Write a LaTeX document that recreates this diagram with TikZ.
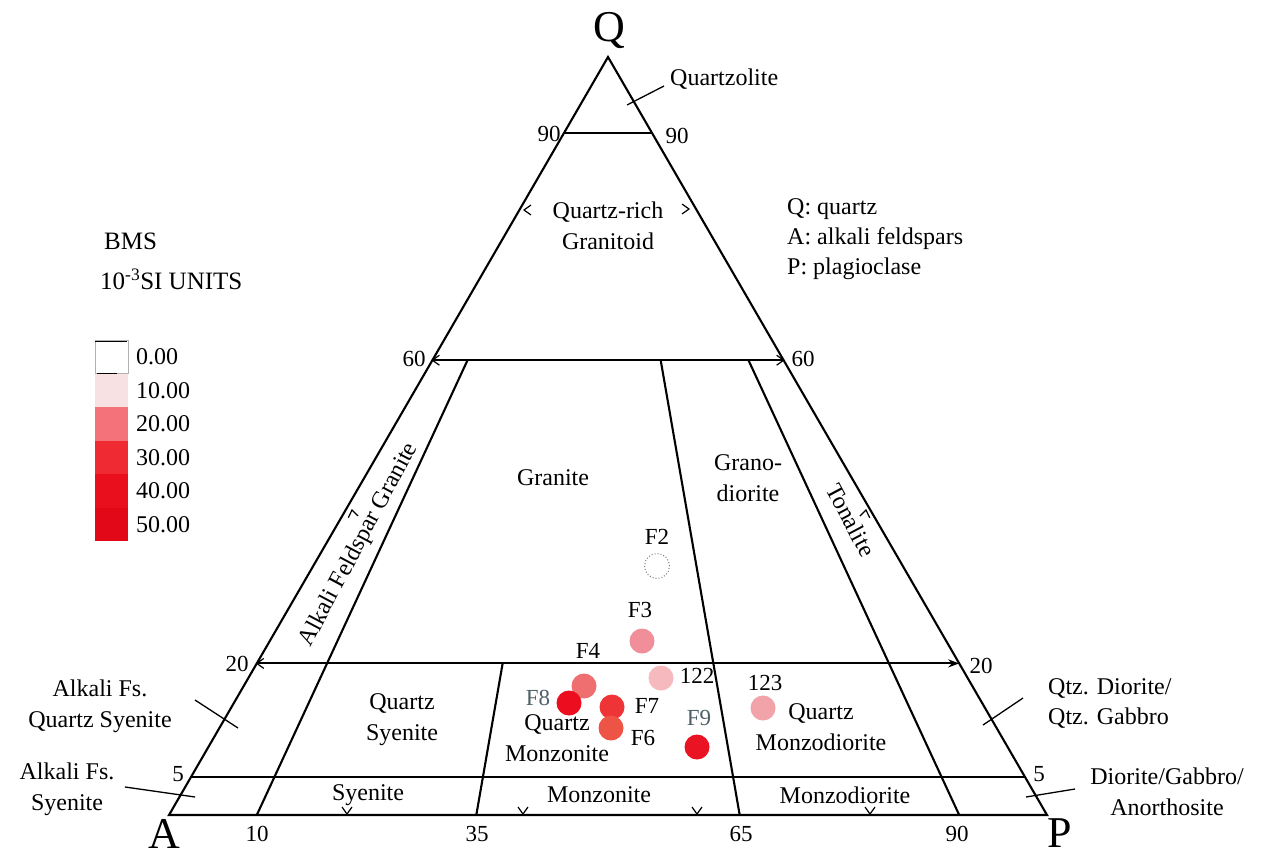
\documentclass[tikz,border=0pt]{standalone}
\usepackage{fontspec}
\setmainfont{Liberation Serif}
\usetikzlibrary{calc,arrows.meta}
\definecolor{cA}{HTML}{F7E1E2}
\definecolor{cB}{HTML}{F4737B}
\definecolor{cC}{HTML}{EF2A33}
\definecolor{cD}{HTML}{EA0F1C}
\definecolor{cE}{HTML}{E30818}
\definecolor{pF3}{HTML}{F08F99}
\definecolor{p122}{HTML}{F5B9BE}
\definecolor{pF4}{HTML}{EF6E70}
\definecolor{pF8}{HTML}{EC0E1E}
\definecolor{pF7}{HTML}{EE3436}
\definecolor{pF6}{HTML}{EE5446}
\definecolor{pF9}{HTML}{E91324}
\definecolor{p123}{HTML}{F2A3AA}
\definecolor{fade}{HTML}{4F6068}
\begin{document}
\begin{tikzpicture}[x=1pt,y=-1pt]
\tikzset{
  edge/.style={line width=2.1pt, line join=miter},
  lbl/.style={font=\fontsize{24}{31}\selectfont, inner sep=0pt, align=center},
  lbll/.style={font=\fontsize{24}{30}\selectfont, inner sep=0pt, align=left},
  num/.style={font=\fontsize{23}{24}\selectfont, inner sep=0pt},
  vtx/.style={font=\fontsize{44}{44}\selectfont, inner sep=0pt},
  ptc/.style={circle, minimum size=25pt, inner sep=0pt},
  leader/.style={line width=1.3pt},
  chv/.pic={\draw[line width=1.2pt] (-7,-5) -- (0,0) -- (-7,5);},
}
\useasboundingbox (0,0) rectangle (1268,857);
\fill[white] (0,0) rectangle (1268,857);
% corners
\coordinate (A) at (169,815);
\coordinate (P) at (1047,815);
\coordinate (Q) at (608,57);
% edge points
\coordinate (L90) at ($(A)!0.9!(Q)$);  \coordinate (R90) at ($(P)!0.9!(Q)$);
\coordinate (L60) at ($(A)!0.6!(Q)$);  \coordinate (R60) at ($(P)!0.6!(Q)$);
\coordinate (L20) at ($(A)!0.2!(Q)$);  \coordinate (R20) at ($(P)!0.2!(Q)$);
\coordinate (L05) at ($(A)!0.05!(Q)$); \coordinate (R05) at ($(P)!0.05!(Q)$);
\coordinate (B10) at ($(A)!0.10!(P)$); \coordinate (B35) at ($(A)!0.35!(P)$);
\coordinate (B65) at ($(A)!0.65!(P)$); \coordinate (B90) at ($(A)!0.90!(P)$);
\coordinate (U10) at ($(B10)!0.6!(Q)$); \coordinate (U35) at ($(B35)!0.2!(Q)$);
\coordinate (U65) at ($(B65)!0.6!(Q)$); \coordinate (U90) at ($(B90)!0.6!(Q)$);
% triangle and field boundaries
\draw[edge] (A) -- (P) -- (Q) -- cycle;
\draw[edge] (L90) -- (R90);
\draw[edge] (L60) -- (R60);
\draw[edge,-{Stealth[length=11pt,width=8pt]}] (L20) -- (R20);
\draw[edge] (L05) -- (R05);
\draw[edge] (B10) -- (U10);
\draw[edge] (B35) -- (U35);
\draw[edge] (B65) -- (U65);
\draw[edge] (B90) -- (U90);
% chevrons
\pic[rotate=180] at (L60) {chv};
\pic at (R60) {chv};
\pic[rotate=180] at (L20) {chv};
\pic[rotate=180] at (524,210) {chv};
\pic at (689,209) {chv};
\pic[rotate=-90] at (347,814) {chv};
\pic[rotate=-90] at (523,814) {chv};
\pic[rotate=-90] at (697,814) {chv};
\pic[rotate=-90] at (870,814) {chv};
\pic[rotate=100] at (352,510) {chv};
\pic[rotate=80] at (866,510) {chv};
% vertex labels
\node[vtx] (lQ) at (609,30) {Q};
\node[vtx] (lA) at (164,834) {A};
\node[vtx] (lP) at (1060,833) {P};
% edge numbers
\node[num] (n90l) at (549,134) {90};
\node[num] (n90r) at (677,136) {90};
\node[num] (n60l) at (414,359) {60};
\node[num] (n60r) at (803,359) {60};
\node[num] (n20l) at (237,664) {20};
\node[num] (n20r) at (981,666) {20};
\node[num] (n5l) at (178,774) {5};
\node[num] (n5r) at (1039,774) {5};
\node[num] (b10) at (257,834) {10};
\node[num] (b35) at (477,834) {35};
\node[num] (b65) at (741,834) {65};
\node[num] (b90) at (957,834) {90};
% field labels
\node[lbll, anchor=west] (tQz) at (670,79) {Quartzolite};
\coordinate (qzA) at (627,105); \coordinate (qzB) at (664,86);
\draw[leader] (qzA) -- (qzB);
\node[lbl] (tQrg) at (608,226) {Quartz-rich\\Granitoid};
\node[lbl] (tGr) at (553,478) {Granite};
\node[lbl] (tGd) at (748,478) {Grano-\\diorite};
\node[lbl, rotate=62] (tAfg) at (359,545) {Alkali Feldspar Granite};
\node[lbl, rotate=-62] (tTon) at (851,520) {Tonalite};
\node[lbl] (tQs) at (402,720) {Quartz\\Syenite};
\node[lbl] (tQm) at (557,738) {Quartz\\Monzonite};
\node[lbl] (tQmd) at (821,727) {Quartz\\Monzodiorite};
\node[lbl] (tSy) at (368,795) {Syenite};
\node[lbl] (tMz) at (599,795) {Monzonite};
\node[lbl] (tMzd) at (845,795) {Monzodiorite};
% outside labels
\node[lbl] (tAfqs) at (100,706) {Alkali Fs.\\Quartz Syenite};
\coordinate (afqA) at (195,700); \coordinate (afqB) at (238,728);
\draw[leader] (afqA) -- (afqB);
\node[lbl] (tAfs) at (67,789) {Alkali Fs.\\Syenite};
\coordinate (afsA) at (125,787); \coordinate (afsB) at (195,797);
\draw[leader] (afsA) -- (afsB);
\node[lbll, anchor=west] (tQd) at (1048,703) {Qtz. Diorite/\\Qtz. Gabbro};
\coordinate (qdA) at (983,725); \coordinate (qdB) at (1023,698);
\draw[leader] (qdA) -- (qdB);
\node[lbl] (tDg) at (1167,792) {Diorite/Gabbro/\\Anorthosite};
\coordinate (dgA) at (1026,797); \coordinate (dgB) at (1075,789);
\draw[leader] (dgA) -- (dgB);
% key
\node[lbll, anchor=west] (key) at (787,239) {Q: quartz\\A: alkali feldspars\\P: plagioclase};
% colour legend
\node[lbll, anchor=west, font=\fontsize{25}{30}\selectfont] (bms) at (104,241) {BMS};
\node[lbll, anchor=west, font=\fontsize{25}{30}\selectfont] (units) at (100,279) {10\textsuperscript{-3}SI UNITS};
\fill[white] (95,340) rectangle (128,373.5);
\draw[gray!60, line width=0.6pt] (95,340) rectangle (128,373.5);
\fill[cA] (95,373.5) rectangle (128,407);
\fill[cB] (95,407) rectangle (128,440.5);
\fill[cC] (95,440.5) rectangle (128,474);
\fill[cD] (95,474) rectangle (128,507.5);
\fill[cE] (95,507.5) rectangle (128,541);
\draw[line width=1pt] (95,341) -- (127,341);
\draw[line width=1.4pt] (97,373.5) -- (117,373.5);
\foreach \v [count=\i from 0] in {0.00,10.00,20.00,30.00,40.00,50.00}
  \node[lbll, anchor=west, font=\fontsize{24}{26}\selectfont] (leg\i) at (136,{356.75+33.5*\i}) {\v};
% data points
\node[ptc, draw=gray, dotted, line width=1pt] (pF2) at (657,566) {};
\node[num] (lF2) at (657,537) {F2};
\node[ptc, fill=pF3] (pF3n) at (642,641) {};
\node[num] (lF3) at (640,610) {F3};
\node[ptc, fill=p122] (p122n) at (661,678) {};
\node[num] (l122) at (697,676) {122};
\node[ptc, fill=pF4] (pF4n) at (584,686) {};
\node[num] (lF4) at (588,651) {F4};
\node[ptc, fill=pF8] (pF8n) at (569,703) {};
\node[num, text=fade] (lF8) at (538,698) {F8};
\node[ptc, fill=pF7] (pF7n) at (612,707) {};
\node[num] (lF7) at (647,706) {F7};
\node[ptc, fill=pF6] (pF6n) at (611,728) {};
\node[num] (lF6) at (643,738) {F6};
\node[ptc, fill=pF9] (pF9n) at (697,747) {};
\node[num, text=fade] (lF9) at (699,718) {F9};
\node[ptc, fill=p123] (p123n) at (763,708) {};
\node[num] (l123) at (765,683) {123};
\end{tikzpicture}
\end{document}
